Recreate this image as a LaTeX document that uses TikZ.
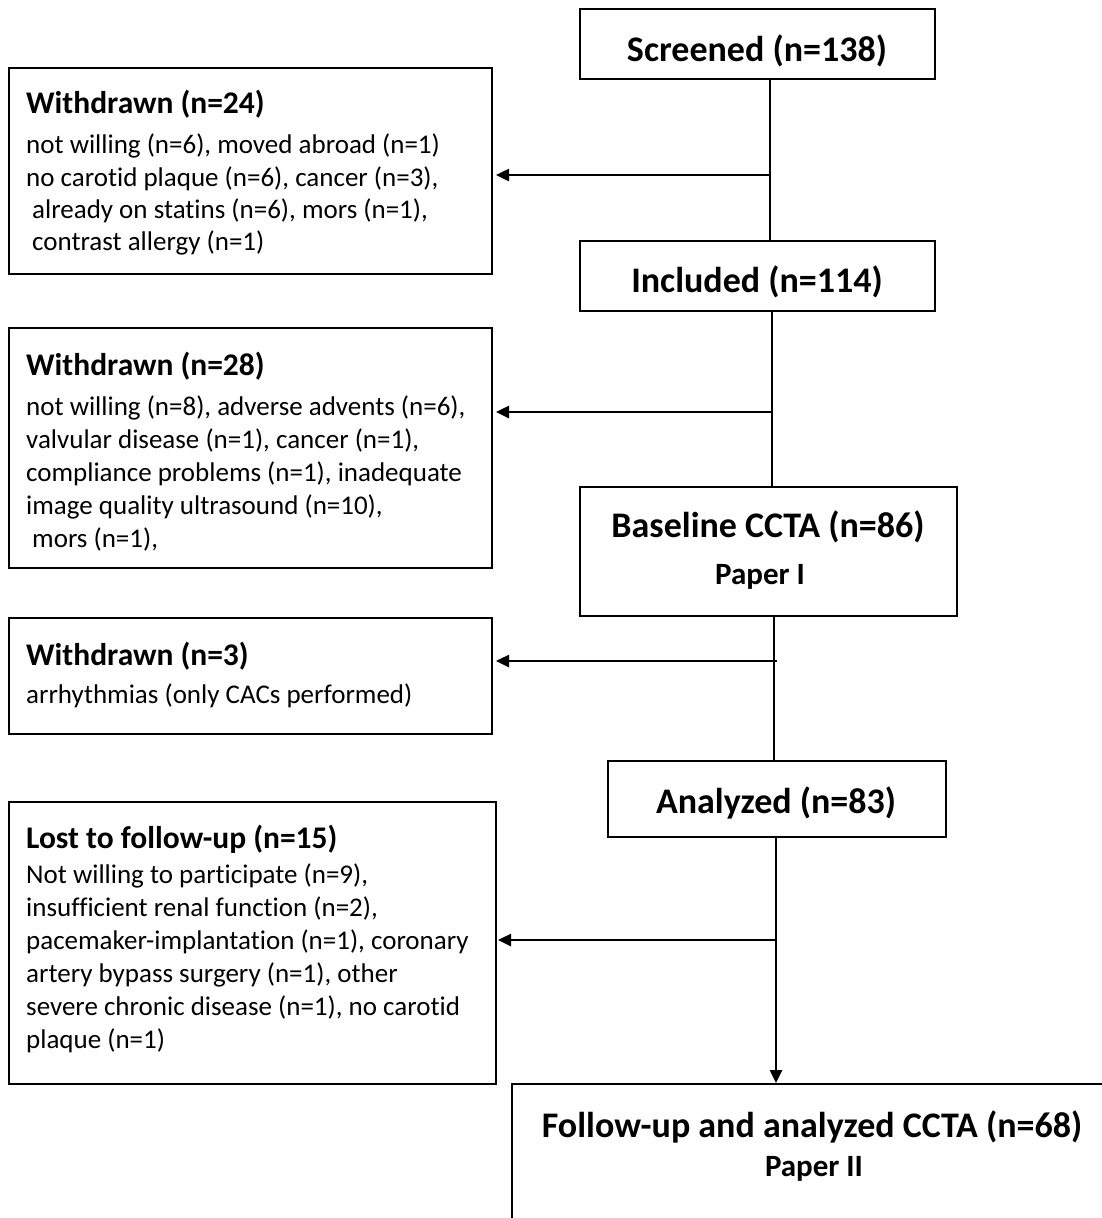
\documentclass[tikz,border=0pt]{standalone}
\usepackage{fontspec}
\setmainfont{Carlito}[Ligatures=NoCommon]
\usetikzlibrary{arrows.meta}
\tikzset{
  box/.style={draw=black, line width=2pt, rectangle, inner sep=0pt, anchor=north west},
  big/.style={font=\bfseries\fontsize{36}{40}\selectfont, anchor=base, inner sep=0pt},
  sub/.style={font=\bfseries\fontsize{31}{36}\selectfont, anchor=base, inner sep=0pt},
  ttl/.style={font=\bfseries\fontsize{31.5}{36}\selectfont, anchor=base west, inner sep=0pt},
  body/.style={font=\fontsize{27}{32}\selectfont, anchor=base west, inner sep=0pt},
  conn/.style={line width=2.5pt, draw=black},
  arr/.style={conn, -{Triangle[length=13pt,width=12pt]}},
}
\begin{document}
\begin{tikzpicture}[x=1pt,y=-1pt]
\useasboundingbox (0,0) rectangle (1102,1218);
\clip (0,0) rectangle (1102,1218);
% main boxes
\node[box, minimum width=355, minimum height=70] (scr) at (579,8) {};
\node[big] (scrt) at (757,61) {Screened (n=138)};
\node[box, minimum width=355, minimum height=70] (inc) at (579,240) {};
\node[big] (inct) at (757,292) {Included (n=114)};
\node[box, minimum width=377, minimum height=129] (base) at (579,486) {};
\node[big] (baset) at (768,537) {Baseline CCTA (n=86)};
\node[sub] (basep) at (760,584) {Paper I};
\node[box, minimum width=338, minimum height=76] (ana) at (607,760) {};
\node[big] (anat) at (776,813) {Analyzed (n=83)};
\node[box, minimum width=602, minimum height=160] (fol) at (511,1083) {};
\node[big] (folt) at (812,1137) {Follow-up and analyzed CCTA (n=68)};
\node[sub] (folp) at (814,1176) {Paper II};
% side boxes
\node[box, minimum width=483, minimum height=206] (w1) at (8,67) {};
\node[ttl] (w1t) at (26,113) {Withdrawn (n=24)};
\node[body] (w1a) at (26,153) {not willing (n=6), moved abroad (n=1)};
\node[body] (w1b) at (26,186) {no carotid plaque (n=6), cancer (n=3),};
\node[body] (w1c) at (32,218) {already on statins (n=6), mors (n=1),};
\node[body] (w1d) at (32,250) {contrast allergy (n=1)};

\node[box, minimum width=483, minimum height=240] (w2) at (8,327) {};
\node[ttl] (w2t) at (26,375) {Withdrawn (n=28)};
\node[body] (w2a) at (26,415) {not willing (n=8), adverse advents (n=6),};
\node[body] (w2b) at (26,448) {valvular disease (n=1), cancer (n=1),};
\node[body] (w2c) at (26,481) {compliance problems (n=1), inadequate};
\node[body] (w2d) at (26,514) {image quality ultrasound (n=10),};
\node[body] (w2e) at (32,547) {mors (n=1),};

\node[box, minimum width=483, minimum height=116] (w3) at (8,617) {};
\node[ttl] (w3t) at (26,665) {Withdrawn (n=3)};
\node[body] (w3a) at (26,703) {arrhythmias (only CACs performed)};

\node[box, minimum width=487, minimum height=282] (lost) at (8,801) {};
\node[ttl] (lostt) at (26,848) {Lost to follow-up (n=15)};
\node[body] (losta) at (26,883) {Not willing to participate (n=9),};
\node[body] (lostb) at (26,916) {insufficient renal function (n=2),};
\node[body] (lostc) at (26,949) {pacemaker-implantation (n=1), coronary};
\node[body] (lostd) at (26,982) {artery bypass surgery (n=1), other};
\node[body] (loste) at (26,1015) {severe chronic disease (n=1), no carotid};
\node[body] (lostf) at (26,1048) {plaque (n=1)};
% connectors
\coordinate (j1) at (770,175);
\coordinate (j2) at (772,412);
\coordinate (j3) at (774,661);
\coordinate (j3e) at (777,661);
\coordinate (j4) at (776,940);
\draw[conn] (j1 |- scr.south) -- (j1 |- inc.north);
\draw[arr, shorten >=3pt] (j1) -- (j1 -| w1.east);
\draw[conn] (j2 |- inc.south) -- (j2 |- base.north);
\draw[arr, shorten >=3pt] (j2) -- (j2 -| w2.east);
\draw[conn] (j3 |- base.south) -- (j3 |- ana.north);
\draw[arr, shorten >=3pt] (j3e) -- (j3e -| w3.east);
\draw[arr] (j4 |- ana.south) -- (j4 |- fol.north);
\draw[arr, shorten >=1pt] (j4) -- (j4 -| lost.east);
\end{tikzpicture}
\end{document}
